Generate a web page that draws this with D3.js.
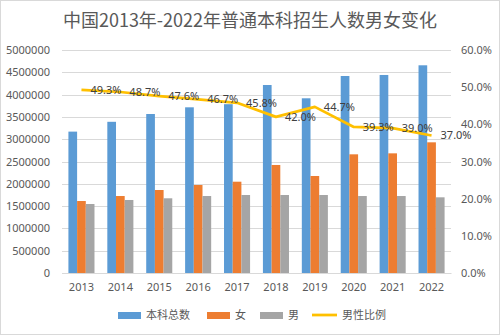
<!DOCTYPE html>
<html><head><meta charset="utf-8">
<script src="https://cdn.jsdelivr.net/npm/d3@7"></script>
<style>body{margin:0;background:#fff;} svg{display:block;font-family:"Noto Sans","Noto Sans CJK SC",sans-serif;}</style>
</head><body><svg id="c" width="500" height="335"></svg>
<script>
const years = ["2013","2014","2015","2016","2017","2018","2019","2020","2021","2022"];
const total = [3170000,3390000,3565000,3715000,3785000,4215000,3917000,4417000,4440000,4657000];
const female = [1614000,1726000,1861000,1973000,2047000,2422000,2175000,2661000,2683000,2930000];
const male = [1547000,1637000,1675000,1726000,1749000,1749000,1749000,1726000,1726000,1697000];
const maleRatio = [0.493,0.487,0.476,0.467,0.458,0.420,0.447,0.393,0.390,0.370];
const leftTicks = [0,500000,1000000,1500000,2000000,2500000,3000000,3500000,4000000,4500000,5000000];
const rightTicks = [0,0.1,0.2,0.3,0.4,0.5,0.6];
const seriesNames = ["本科总数","女","男"];
const colors = {"本科总数":"#5B9BD5","女":"#ED7D31","男":"#A5A5A5","男性比例":"#FFC000"};
const title = "中国2013年-2022年普通本科招生人数男女变化";

const svg = d3.select("#c");
svg.append("rect").attr("x",0.5).attr("y",0.5).attr("width",499).attr("height",334)
  .attr("fill","#fff").attr("stroke","#d9d9d9");

const L=62,R=451,T=50,B=273;
const x0 = d3.scaleBand().domain(years).range([L,R]).paddingInner(0.33).paddingOuter(0.165);
const x1 = d3.scaleBand().domain(seriesNames).range([0,x0.bandwidth()]);
const yL = d3.scaleLinear().domain([0,5000000]).range([B,T]);
const yR = d3.scaleLinear().domain([0,0.6]).range([B,T]);

svg.append("text").attr("x",250).attr("y",27).attr("text-anchor","middle")
  .attr("font-family","Noto Sans CJK SC").attr("font-size",18).attr("fill","#595959").text(title);

// gridlines
svg.append("g").selectAll("line").data(leftTicks).join("line")
  .attr("x1",L).attr("x2",R).attr("y1",d=>Math.round(yL(d))+0.5).attr("y2",d=>Math.round(yL(d))+0.5)
  .attr("stroke","#d9d9d9").attr("stroke-width",1);

// left axis
const gl = svg.append("g").attr("transform",`translate(${L-8},0)`)
  .call(d3.axisLeft(yL).tickValues(leftTicks).tickFormat(d3.format("d")).tickSize(0).tickPadding(4));
gl.select(".domain").remove();
gl.selectAll("text").attr("font-size",11).attr("fill","#595959").attr("font-family","Noto Sans");

// right axis
const gr = svg.append("g").attr("transform",`translate(${R+6},0)`)
  .call(d3.axisRight(yR).tickValues(rightTicks).tickFormat(d3.format(".1%")).tickSize(0).tickPadding(4));
gr.select(".domain").remove();
gr.selectAll("text").attr("font-size",11).attr("fill","#595959").attr("font-family","Noto Sans");

// x axis
const gx = svg.append("g").attr("transform",`translate(0,${B})`)
  .call(d3.axisBottom(x0).tickSize(0).tickPadding(10));
gx.select(".domain").attr("stroke","#d9d9d9");
gx.selectAll("text").attr("font-size",11).attr("fill","#595959").attr("font-family","Noto Sans");

// bars
const rows = years.map((y,i)=>({year:y, vals:[total[i],female[i],male[i]]}));
svg.append("g").selectAll("g").data(rows).join("g")
  .attr("transform",d=>`translate(${x0(d.year)},0)`)
  .selectAll("rect").data(d=>d.vals.map((v,j)=>({name:seriesNames[j],v})))
  .join("rect")
  .attr("x",d=>x1(d.name)).attr("width",x1.bandwidth())
  .attr("y",d=>yL(d.v)).attr("height",d=>B-yL(d.v))
  .attr("fill",d=>colors[d.name]);

// line
const pts = years.map((y,i)=>[x0(y)+x0.bandwidth()/2, yR(maleRatio[i])]);
svg.append("path").attr("d",d3.line()(pts)).attr("fill","none")
  .attr("stroke",colors["男性比例"]).attr("stroke-width",2.75).attr("stroke-linejoin","round");

svg.append("g").selectAll("text").data(pts).join("text")
  .attr("x",d=>d[0]+9).attr("y",d=>d[1]+4)
  .attr("font-size",11).attr("fill","#404040").attr("font-family","Noto Sans")
  .text((d,i)=>d3.format(".1%")(maleRatio[i]));

// legend
const legend = [
  {name:"本科总数",x:118,type:"rect"},
  {name:"女",x:207,type:"rect"},
  {name:"男",x:260,type:"rect"},
  {name:"男性比例",x:312,type:"line"}
];
const ly=315;
const lg = svg.append("g");
legend.forEach(d=>{
  if(d.type==="rect") lg.append("rect").attr("x",d.x).attr("y",ly-3).attr("width",23).attr("height",7).attr("fill",colors[d.name]);
  else lg.append("line").attr("x1",d.x).attr("x2",d.x+25).attr("y1",ly).attr("y2",ly).attr("stroke",colors[d.name]).attr("stroke-width",2.75);
  lg.append("text").attr("x",d.x+(d.type==="rect"?28:30)).attr("y",ly+4).attr("font-size",11)
    .attr("font-family","Noto Sans CJK SC").attr("fill","#595959").text(d.name);
});
</script></body></html>
